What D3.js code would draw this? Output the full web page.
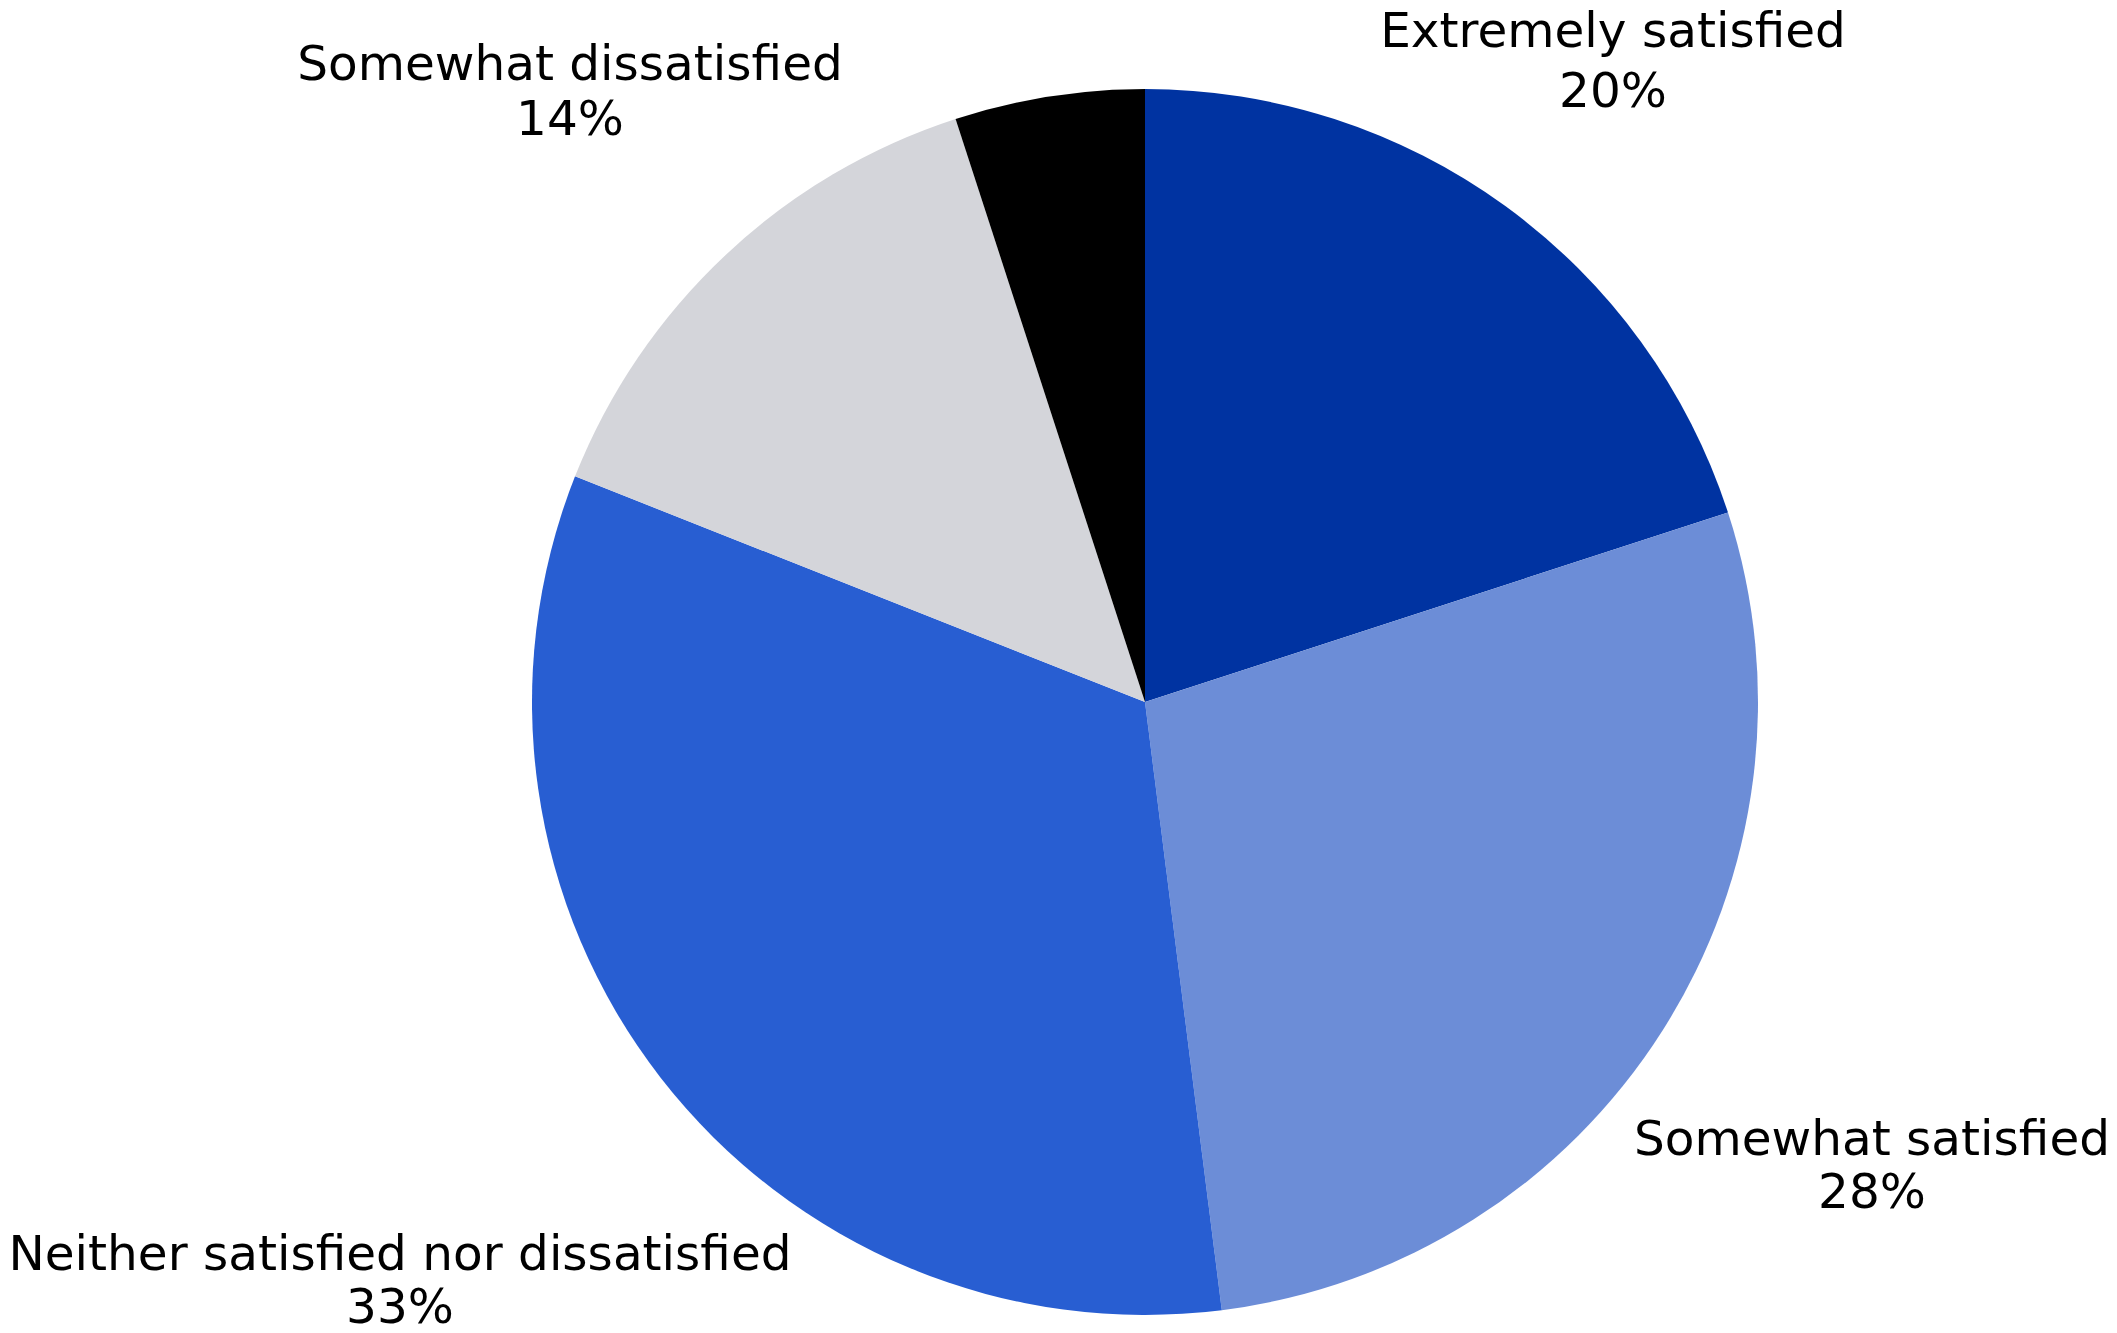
<!DOCTYPE html>
<html>
<head>
<meta charset="utf-8">
<script src="https://cdn.jsdelivr.net/npm/d3@7"></script>
<style>
  html, body { margin: 0; padding: 0; background: #ffffff; }
  svg { display: block; }
  text { font-family: "DejaVu Sans", sans-serif; fill: #000; }
</style>
</head>
<body>
<svg id="chart" width="2117" height="1333"></svg>
<script>
// ---- data ----
const categories = [
  "Extremely satisfied",
  "Somewhat satisfied",
  "Neither satisfied nor dissatisfied",
  "Somewhat dissatisfied",
  "Extremely dissatisfied"
];
const values = [20, 28, 33, 14, 5];
const showLabel = [true, true, true, true, false];
const colors = ["#0033A1", "#6C8DD7", "#285ED2", "#D4D5DA", "#000000"];

// ---- layout ----
const W = 2117, H = 1333;
const cx = 1145, cy = 702, R = 613;
// label anchor (center x, baseline of first line, line spacing)
const labelLayout = [
  { x: 1613, y: 47,   dy: 60 },
  { x: 1872, y: 1155, dy: 53 },
  { x: 400,  y: 1270, dy: 53 },
  { x: 570,  y: 80,   dy: 55 },
  null
];

const svg = d3.select("#chart");
svg.append("rect").attr("width", W).attr("height", H).attr("fill", "#fff");

const data = categories.map((c, i) => ({ name: c, value: values[i], i }));
const pie = d3.pie().value(d => d.value).sort(null);
const arc = d3.arc().innerRadius(0).outerRadius(R);
const color = d3.scaleOrdinal().domain(categories).range(colors);

const g = svg.append("g").attr("transform", `translate(${cx},${cy})`);
g.selectAll("path")
  .data(pie(data))
  .join("path")
  .attr("d", arc)
  .attr("fill", d => color(d.data.name));

const fmt = d3.format(".0%");
const total = d3.sum(values);
const labels = svg.append("g");
data.forEach((d, i) => {
  if (!showLabel[i]) return;
  const L = labelLayout[i];
  const t = labels.append("text")
    .attr("text-anchor", "middle")
    .attr("font-size", 48.5);
  t.append("tspan").attr("x", L.x).attr("y", L.y).text(d.name);
  t.append("tspan").attr("x", L.x).attr("y", L.y + L.dy).text(fmt(d.value / total));
});
</script>
</body>
</html>
